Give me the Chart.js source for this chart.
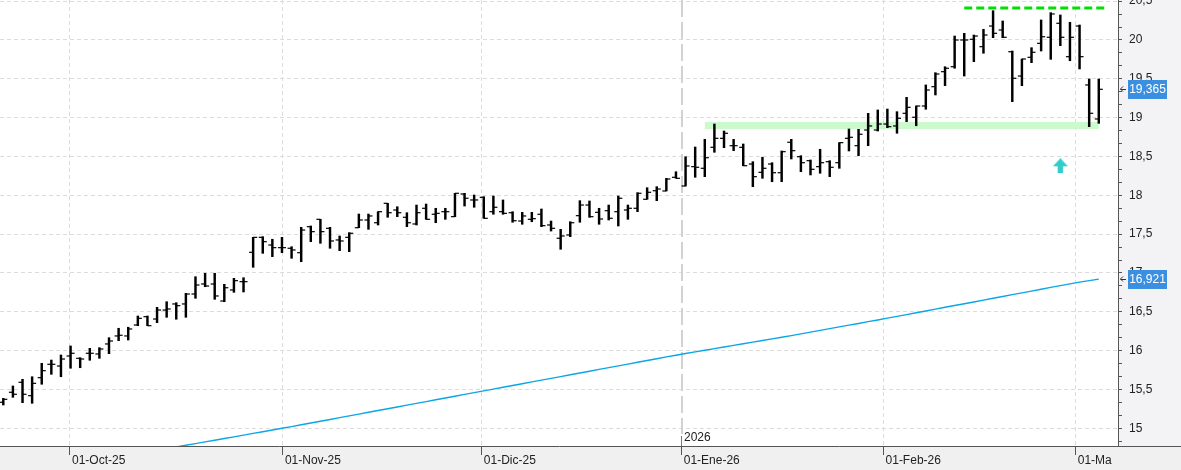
<!DOCTYPE html>
<html><head><meta charset="utf-8">
<script src="https://cdn.jsdelivr.net/npm/chart.js@4.4.1/dist/chart.umd.min.js"></script>
<style>html,body{margin:0;padding:0;background:#fff;overflow:hidden}canvas{display:block}</style>
</head><body>
<canvas id="c" width="1181" height="470"></canvas>
<script>
// ---- categories (trading days) ----
const dates = [
'22/09/25','23/09/25','24/09/25','25/09/25','26/09/25','29/09/25','30/09/25',
'01/10/25','02/10/25','03/10/25','06/10/25','07/10/25','08/10/25','09/10/25','10/10/25','13/10/25','14/10/25','15/10/25','16/10/25','17/10/25','20/10/25','21/10/25','22/10/25','23/10/25','24/10/25','27/10/25','28/10/25','29/10/25','30/10/25','31/10/25',
'03/11/25','04/11/25','05/11/25','06/11/25','07/11/25','10/11/25','11/11/25','12/11/25','13/11/25','14/11/25','17/11/25','18/11/25','19/11/25','20/11/25','21/11/25','24/11/25','25/11/25','26/11/25','27/11/25','28/11/25',
'01/12/25','02/12/25','03/12/25','04/12/25','05/12/25','08/12/25','09/12/25','10/12/25','11/12/25','12/12/25','15/12/25','16/12/25','17/12/25','18/12/25','19/12/25','22/12/25','23/12/25','24/12/25','29/12/25','30/12/25','31/12/25',
'02/01/26','05/01/26','06/01/26','07/01/26','08/01/26','09/01/26','12/01/26','13/01/26','14/01/26','15/01/26','16/01/26','19/01/26','20/01/26','21/01/26','22/01/26','23/01/26','26/01/26','27/01/26','28/01/26','29/01/26','30/01/26',
'02/02/26','03/02/26','04/02/26','05/02/26','06/02/26','09/02/26','10/02/26','11/02/26','12/02/26','13/02/26','16/02/26','17/02/26','18/02/26','19/02/26','20/02/26','23/02/26','24/02/26','25/02/26','26/02/26','27/02/26',
'02/03/26','03/03/26','04/03/26'];

// ---- series ----
const open = [15.335,15.464,15.592,15.420,15.652,15.824,15.802,15.931,15.901,15.966,
15.957,16.086,16.189,16.189,16.330,16.437,16.407,16.523,16.601,16.601,
16.729,16.858,16.858,16.639,16.781,16.888,17.266,17.459,17.360,17.326,
17.318,17.261,17.596,17.691,17.575,17.425,17.459,17.583,17.682,17.647,
17.897,17.811,17.717,17.631,17.833,17.756,17.789,17.725,18.017,17.940,
17.974,17.789,17.789,17.776,17.669,17.691,17.756,17.618,17.447,17.489,
17.738,17.875,17.781,17.802,17.789,17.811,17.833,17.949,18.059,18.056,
18.232,18.120,18.369,18.348,18.618,18.734,18.639,18.618,18.403,18.296,
18.403,18.291,18.683,18.497,18.446,18.369,18.433,18.420,18.734,18.639,
18.841,18.841,18.918,18.893,19.056,19.005,19.150,19.399,19.592,19.656,
20.000,20.009,19.914,20.180,20.129,19.849,19.536,19.777,19.957,20.035,
20.215,19.785,20.180,19.421,18.983];
const high = [15.386,15.545,15.631,15.664,15.837,15.879,15.944,16.060,15.909,16.030,
16.038,16.167,16.288,16.301,16.446,16.446,16.558,16.630,16.617,16.738,
16.952,16.996,16.996,16.854,16.931,16.939,17.459,17.467,17.434,17.459,
17.338,17.588,17.605,17.691,17.588,17.476,17.519,17.759,17.759,17.789,
17.897,17.853,17.776,17.875,17.888,17.833,17.833,18.026,18.026,18.004,
17.982,17.991,17.940,17.789,17.781,17.781,17.824,17.669,17.562,17.660,
17.931,17.927,17.833,17.875,17.991,17.875,18.034,18.098,18.111,18.219,
18.304,18.497,18.622,18.721,18.918,18.828,18.721,18.661,18.433,18.490,
18.420,18.571,18.721,18.510,18.455,18.593,18.446,18.678,18.854,18.850,
19.056,19.099,19.111,19.077,19.262,19.150,19.421,19.579,19.656,20.051,
20.086,20.064,20.138,20.377,20.245,19.858,19.755,19.901,20.258,20.352,
20.322,20.228,20.193,19.498,19.498];
const low = [15.300,15.399,15.330,15.322,15.567,15.695,15.664,15.773,15.780,15.876,
15.901,15.961,16.128,16.137,16.321,16.321,16.360,16.429,16.404,16.429,
16.674,16.823,16.661,16.630,16.751,16.755,17.073,17.253,17.210,17.261,
17.189,17.145,17.403,17.382,17.318,17.287,17.274,17.583,17.562,17.618,
17.717,17.725,17.596,17.618,17.691,17.647,17.691,17.725,17.862,17.846,
17.704,17.756,17.756,17.653,17.627,17.660,17.596,17.540,17.305,17.467,
17.653,17.717,17.627,17.682,17.605,17.691,17.789,17.949,17.931,18.056,
18.219,18.120,18.232,18.240,18.554,18.613,18.575,18.381,18.111,18.219,
18.175,18.175,18.468,18.304,18.262,18.284,18.240,18.348,18.571,18.510,
18.639,18.828,18.871,18.799,18.948,18.896,19.108,19.292,19.412,19.636,
19.536,19.721,19.829,20.030,20.030,19.206,19.412,19.708,19.858,19.751,
19.927,19.733,19.627,18.884,18.927];
const close = [15.373,15.438,15.438,15.579,15.742,15.824,15.892,15.966,15.892,15.966,
16.021,16.124,16.198,16.279,16.416,16.321,16.523,16.536,16.579,16.729,
16.845,16.832,16.704,16.810,16.901,16.888,17.459,17.403,17.326,17.326,
17.296,17.553,17.532,17.532,17.412,17.412,17.511,17.682,17.734,17.789,
17.776,17.776,17.647,17.776,17.691,17.768,17.789,18.026,17.962,17.940,
17.704,17.846,17.768,17.673,17.734,17.699,17.609,17.575,17.476,17.647,
17.875,17.725,17.695,17.704,17.962,17.833,18.026,18.039,18.081,18.210,
18.219,18.378,18.361,18.484,18.734,18.799,18.639,18.381,18.240,18.348,
18.291,18.562,18.575,18.420,18.335,18.420,18.361,18.678,18.747,18.786,
18.893,18.918,18.884,18.992,19.133,19.150,19.356,19.562,19.636,20.000,
20.000,20.051,20.064,20.086,20.035,19.507,19.755,19.842,20.042,20.335,
20.035,20.035,19.785,19.056,19.365];
const movingAvg = [14.40,14.42,14.44,14.46,14.48,14.50,14.52,14.54,14.56,14.58,
14.60,14.62,14.64,14.66,14.68,14.70,14.72,14.74,14.76,14.782,
14.803,14.825,14.846,14.868,14.890,14.912,14.934,14.956,14.978,15.000,
15.022,15.045,15.068,15.091,15.114,15.137,15.160,15.183,15.206,15.229,
15.252,15.275,15.298,15.321,15.344,15.367,15.390,15.413,15.436,15.459,
15.482,15.505,15.528,15.551,15.574,15.597,15.620,15.643,15.666,15.689,
15.712,15.735,15.758,15.781,15.804,15.827,15.850,15.873,15.896,15.919,
15.941,15.963,15.984,16.005,16.026,16.047,16.067,16.088,16.109,16.130,
16.151,16.172,16.194,16.216,16.239,16.261,16.283,16.306,16.328,16.350,
16.373,16.395,16.418,16.441,16.464,16.488,16.511,16.534,16.558,16.581,
16.604,16.627,16.651,16.674,16.697,16.721,16.744,16.767,16.790,16.814,
16.837,16.860,16.882,16.902,16.921];

// ---- levels / annotations ----
const supportLevel = [18.9];
const supportSpan = [73, 114];
const resistanceLevel = [20.412];
const resistanceSpan = [100, 114.6];
const arrowMark = [110, 18.38];

// ---- tick labels ----
const monthTickPos = [6.94, 29.1, 49.8, 70.6, 91.6, 111.6];
const monthTickLabels = ['01-Oct-25','01-Nov-25','01-Dic-25','01-Ene-26','01-Feb-26','01-Mar-26'];
const yearMark = [70.6];
const yearLabel = ['2026'];
const yMajorTicks = [15,15.5,16,16.5,17,17.5,18,18.5,19,19.5,20,20.5];
const yMinorPerUnit = 6;

const X_MIN = -0.343, X_MAX = 116.0, Y_MIN = 14.772, Y_MAX = 20.515;
const TICK_OFF = 0.21;

Chart.defaults.font.family = "'Liberation Sans', Arial, sans-serif";

const idx = dates.map((d, i) => i);
const fmt = v => String(Math.round(v * 1000) / 1000).replace('.', ',');
const isMajor = v => yMajorTicks.some(m => Math.abs(m - v) < 1e-6);
const noPad = s => { s.paddingLeft = 0; s.paddingRight = 0; s.paddingTop = 0; s.paddingBottom = 0; };

// arrow point style
const arrowCanvas = document.createElement('canvas');
arrowCanvas.width = 15; arrowCanvas.height = 15;
(function(){
  const g = arrowCanvas.getContext('2d');
  g.fillStyle = '#33cccc';
  g.beginPath(); g.moveTo(7.5, 0); g.lineTo(15, 8); g.lineTo(0, 8); g.closePath(); g.fill();
  g.fillRect(4.8, 8, 5.4, 7);
})();

const decor = {
  id: 'decor',
  beforeDraw(chart) {
    const {ctx, chartArea: a, width, height} = chart;
    ctx.save();
    ctx.fillStyle = '#ffffff'; ctx.fillRect(0, 0, width, height);
    ctx.fillStyle = '#f0f0f0'; ctx.fillRect(0, a.bottom, width, height - a.bottom);
    ctx.fillStyle = '#f3f3f5'; ctx.fillRect(a.right, 0, width - a.right, height);
    ctx.restore();
  },
  beforeDatasetsDraw(chart) {
    const {ctx, chartArea: a, scales: {x}} = chart;
    const px = Math.round(x.getPixelForValue(yearMark[0]));
    ctx.save();
    ctx.strokeStyle = '#d2d2d2'; ctx.lineWidth = 2; ctx.setLineDash([17, 5]);
    ctx.beginPath(); ctx.moveTo(px, a.top); ctx.lineTo(px, a.bottom - 12); ctx.stroke();
    ctx.setLineDash([]); ctx.strokeStyle = '#777'; ctx.lineWidth = 1;
    ctx.beginPath(); ctx.moveTo(px - 0.5, a.bottom - 10); ctx.lineTo(px - 0.5, a.bottom); ctx.stroke();
    ctx.fillStyle = '#222'; ctx.font = "12px 'Liberation Sans', Arial, sans-serif";
    ctx.textBaseline = 'middle'; ctx.textAlign = 'left';
    ctx.fillText(yearLabel[0], px + 2, a.bottom - 8);
    ctx.restore();
  },
  afterDatasetsDraw(chart) {
    const {ctx, chartArea: a, width, height} = chart;
    ctx.save();
    ctx.fillStyle = '#f3f3f5'; ctx.fillRect(a.right, 0, width - a.right, a.bottom);
    ctx.fillStyle = '#f0f0f0'; ctx.fillRect(a.right - 6, a.bottom + 1, width - a.right + 6, height - a.bottom - 1);
    ctx.strokeStyle = '#555'; ctx.lineWidth = 1;
    ctx.beginPath(); ctx.moveTo(a.right, a.bottom + 0.5); ctx.lineTo(width, a.bottom + 0.5); ctx.stroke();
    ctx.restore();
  },
  afterDraw(chart) {
    const {ctx, chartArea: a, scales: {y}} = chart;
    const last = close.length - 1;
    const boxes = [[close[last], '#3b8fe0'], [movingAvg[last], '#3b8fe0']];
    ctx.save();
    ctx.font = "12px 'Liberation Sans', Arial, sans-serif";
    boxes.forEach(([v, col]) => {
      const cy = Math.round(y.getPixelForValue(v));
      ctx.fillStyle = col;
      ctx.fillRect(a.right + 10, cy - 9, 39, 19);
      ctx.fillStyle = '#ffffff'; ctx.textAlign = 'center'; ctx.textBaseline = 'middle';
      ctx.fillText(fmt(v), a.right + 29.5, cy + 1);
      ctx.strokeStyle = '#333'; ctx.lineWidth = 1;
      ctx.beginPath();
      ctx.moveTo(a.right + 5, cy - 2.5); ctx.lineTo(a.right + 2.5, cy); ctx.lineTo(a.right + 5, cy + 2.5);
      ctx.moveTo(a.right + 2.5, cy + 0.5); ctx.lineTo(a.right + 8, cy + 0.5);
      ctx.stroke();
    });
    ctx.restore();
  }
};

new Chart(document.getElementById('c'), {
  type: 'bar',
  data: {
    datasets: [
      { type: 'scatter', data: idx.map(i => ({x: i - TICK_OFF, y: open[i]})),
        pointStyle: 'line', pointRadius: 2, pointHoverRadius: 2, pointBorderColor: '#000', pointBorderWidth: 1.2,
        borderColor: '#000', showLine: false, order: 0, yAxisID: 'y' },
      { type: 'scatter', data: idx.map(i => ({x: i + TICK_OFF, y: close[i]})),
        pointStyle: 'line', pointRadius: 2, pointHoverRadius: 2, pointBorderColor: '#000', pointBorderWidth: 1.2,
        borderColor: '#000', showLine: false, order: 0, yAxisID: 'y' },
      { type: 'scatter', data: [{x: arrowMark[0], y: arrowMark[1]}], pointStyle: arrowCanvas,
        pointRadius: 8, order: 0, yAxisID: 'y' },
      { type: 'bar', data: idx.map(i => ({x: i, y: [low[i], high[i]]})),
        backgroundColor: '#000', borderWidth: 0, barThickness: 1.8, order: 1, yAxisID: 'y' },
      { type: 'line', data: idx.map(i => ({x: i, y: movingAvg[i]})),
        borderColor: '#0ba6e6', borderWidth: 1.4, pointRadius: 0, tension: 0, clip: 0, order: 2, yAxisID: 'y' },
      { type: 'line', data: resistanceSpan.map(v => ({x: v, y: resistanceLevel[0]})),
        borderColor: '#00e000', borderWidth: 3, borderDash: [8, 4], pointRadius: 0, order: 3, yAxisID: 'y' },
      { type: 'line', data: supportSpan.map(v => ({x: v, y: supportLevel[0]})),
        borderColor: '#ccfacc', borderWidth: 7, pointRadius: 0, borderCapStyle: 'butt', order: 4, yAxisID: 'y' }
    ]
  },
  options: {
    responsive: false, animation: false, devicePixelRatio: 1, events: [],
    layout: { padding: 0, autoPadding: false },
    plugins: { legend: { display: false }, tooltip: { enabled: false } },
    scales: {
      x: {
        type: 'linear', min: X_MIN, max: X_MAX, offset: false,
        afterBuildTicks: s => { s.ticks = monthTickPos.map(v => ({value: v})); },
        afterFit: s => { s.height = 24; noPad(s); },
        grid: { offset: false, color: c => (c.tick && Math.abs(c.tick.value - yearMark[0]) < 1e-6) ? 'rgba(0,0,0,0)' : '#dcdcdc',
                lineWidth: 1, drawTicks: true, tickLength: 9, tickColor: '#555', tickWidth: 1, z: -1 },
        border: { display: true, color: '#555', width: 1, dash: [4, 3] },
        ticks: { autoSkip: false, maxRotation: 0, minRotation: 0, align: 'start', padding: -2, labelOffset: 2,
                 color: '#222', font: { size: 12 }, callback: (v, i) => monthTickLabels[i] }
      },
      y: {
        type: 'linear', position: 'right', min: Y_MIN, max: Y_MAX,
        afterBuildTicks: s => { s.ticks = yMajorTicks.map(v => ({value: v})); },
        afterFit: s => { s.width = 0; noPad(s); },
        grid: { color: '#dcdcdc', lineWidth: 1, drawTicks: false, z: -1 },
        border: { display: false, dash: [4, 3] },
        ticks: { display: false }
      },
      y2: {
        type: 'linear', position: 'right', min: Y_MIN, max: Y_MAX,
        afterBuildTicks: s => {
          const t = [];
          for (let k = Math.ceil(Y_MIN * yMinorPerUnit); k <= Math.floor(Y_MAX * yMinorPerUnit); k++) t.push({value: k / yMinorPerUnit});
          s.ticks = t;
        },
        afterFit: s => { s.width = 63; noPad(s); },
        grid: { drawOnChartArea: false, drawTicks: true, tickLength: 4, tickColor: '#555', tickWidth: 1, z: 1 },
        border: { display: true, color: '#555', width: 1, z: 1 },
        ticks: { z: 1, padding: 7, autoSkip: false, color: '#222', font: { size: 12 },
                 callback: v => isMajor(v) ? fmt(v) : '' }
      }
    }
  },
  plugins: [decor]
});
</script>
</body></html>
